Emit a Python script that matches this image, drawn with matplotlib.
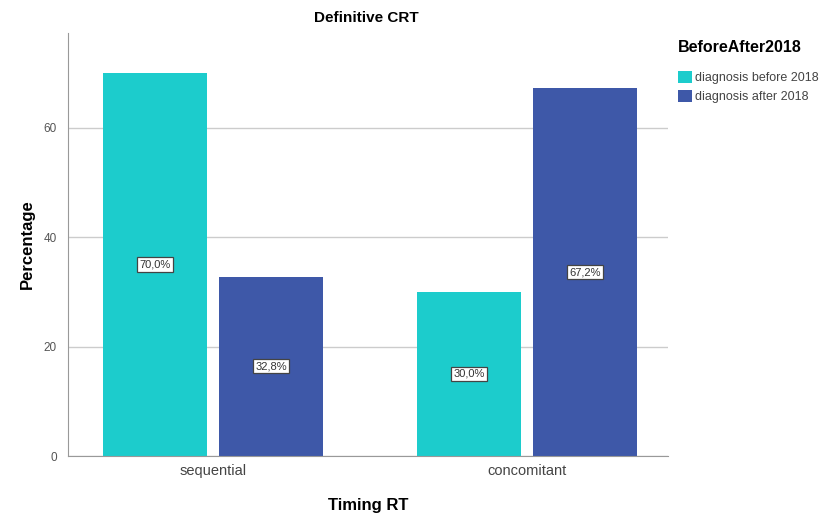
import matplotlib.pyplot as plt
import numpy as np

# Dados
categorias = ['sequential', 'concomitant']
grupos = ['diagnosis before 2018', 'diagnosis after 2018']
antes_2018 = [70.0, 30.0]
depois_2018 = [32.8, 67.2]
cores = ['#1ccccc', '#3e58a8']

plt.rcParams['font.family'] = ['Liberation Sans', 'DejaVu Sans']

fig = plt.figure(figsize=(8.25, 5.14), dpi=100)
ax = fig.add_axes([0.0824, 0.1128, 0.7273, 0.823])

x = np.arange(len(categorias))
largura = 0.33
desloc = 0.185

for serie, d, cor, nome in [(antes_2018, -desloc, cores[0], grupos[0]),
                            (depois_2018, desloc, cores[1], grupos[1])]:
    barras = ax.bar(x + d, serie, largura, color=cor, label=nome, zorder=2)
    for b, v in zip(barras, serie):
        ax.text(b.get_x() + b.get_width() / 2, v / 2, f'{v:.1f}%'.replace('.', ','),
                ha='center', va='center', fontsize=8, color='#333333', zorder=3,
                bbox=dict(boxstyle='square,pad=0.2', fc='white', ec='#444444', lw=0.9))

ax.set_xlim(-0.463, 1.45)
ax.set_ylim(0, 77.3)
ax.set_yticks([0, 20, 40, 60])
ax.yaxis.grid(True, color='#cccccc', lw=1, zorder=0)
ax.set_xticks(x)
ax.set_xticklabels(categorias, fontsize=10.5, color='#444444')
ax.tick_params(axis='x', length=0, pad=6)
ax.tick_params(axis='y', labelsize=8.5, colors='#555555', length=0, pad=8)
for s in ['top', 'right']:
    ax.spines[s].set_visible(False)
for s in ['left', 'bottom']:
    ax.spines[s].set_color('#999999')

ax.set_xlabel('Timing RT', fontsize=12, fontweight='bold', labelpad=14)
ax.set_ylabel('Percentage', fontsize=12, fontweight='bold', va='center')
ax.yaxis.set_label_coords(-0.067, 0.5)
fig.text(0.444, 0.965, 'Definitive CRT', ha='center', va='center',
         fontsize=11, fontweight='bold')

leg = fig.legend(loc='upper left', bbox_to_anchor=(0.808, 0.945), frameon=False,
                 title='BeforeAfter2018', fontsize=9, handlelength=1.1,
                 handleheight=1.1, handletextpad=0.3, labelspacing=0.45,
                 alignment='left')
leg._legend_box.sep = 12
leg.get_title().set_fontweight('bold')
leg.get_title().set_fontsize(11.5)
for t in leg.get_texts():
    t.set_color('#444444')

fig.savefig('out.png', dpi=100)
